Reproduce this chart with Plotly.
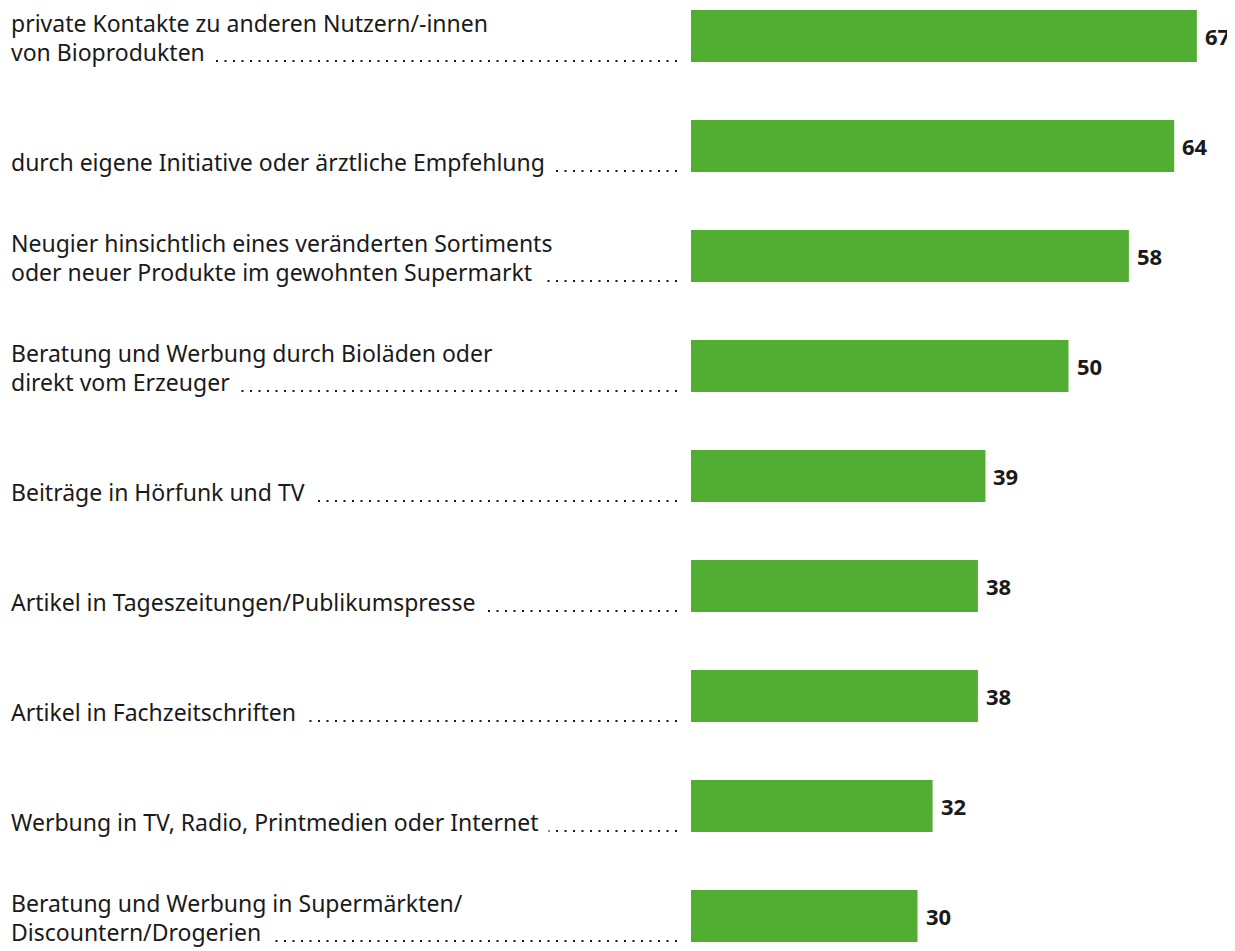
import plotly.graph_objects as go

labels = [
    "private Kontakte zu anderen Nutzern/-innen\nvon Bioprodukten",
    "durch eigene Initiative oder ärztliche Empfehlung",
    "Neugier hinsichtlich eines veränderten Sortiments\noder neuer Produkte im gewohnten Supermarkt",
    "Beratung und Werbung durch Bioläden oder\ndirekt vom Erzeuger",
    "Beiträge in Hörfunk und TV",
    "Artikel in Tageszeitungen/Publikumspresse",
    "Artikel in Fachzeitschriften",
    "Werbung in TV, Radio, Printmedien oder Internet",
    "Beratung und Werbung in Supermärkten/\nDiscountern/Drogerien",
]
values = [67, 64, 58, 50, 39, 38, 38, 32, 30]

# page body has an 8px margin, so the figure is drawn 8px in from the corner
W, H = 1227, 943
GREEN = "#52AE32"
TXT = "#1a1a1a"
FONT = "Noto Sans"
FS = 23
PAD = 9
BAR_X0 = 683          # left edge of bars (figure px)
PX_PER_UNIT = 7.55
ROW = 110
FIRST_C = 28

cats = [f"c{i}" for i in range(len(labels))]

fig = go.Figure(go.Bar(
    x=values, y=cats, orientation="h",
    marker=dict(color=GREEN, line=dict(width=0)),
    width=52 / ROW, hoverinfo="skip",
))

annotations = []
shapes = []
for i, (lab, v, c) in enumerate(zip(labels, values, cats)):
    lines = lab.split("\n")
    annotations.append(dict(
        x=v, y=c, xref="x", yref="y", text=f"<b>{v}</b>", showarrow=False,
        xanchor="left", yanchor="middle", xshift=6, yshift=0,
        font=dict(family=FONT, size=22, color=TXT),
    ))
    shapes.append(dict(
        type="line", xref="paper", yref="y", ysizemode="pixel", yanchor=i,
        x0=4 / W, x1=671 / W, y0=-25, y1=-25,
        line=dict(color=TXT, width=2, dash="2px,6.5px"),
    ))
    nl = len(lines)
    for j in reversed(range(nl)):
        ln = lines[j]
        last = j == nl - 1
        off = (nl - 1 - j) * 29.5
        pad = PAD if last else 0
        annotations.append(dict(
            x=(2 - pad) / W, y=c, xref="paper", yref="y", text=ln, showarrow=False,
            xanchor="left", yanchor="middle", align="left",
            yshift=-16 + off,
            bgcolor="white" if last else "rgba(0,0,0,0)",
            borderpad=pad,
            font=dict(family=FONT, size=FS, color=TXT),
        ))

fig.update_layout(
    width=W, height=H, margin=dict(l=0, r=0, t=0, b=0),
    paper_bgcolor="white", plot_bgcolor="white", showlegend=False,
    xaxis=dict(domain=[BAR_X0 / W, 1], range=[0, (W - BAR_X0) / PX_PER_UNIT],
               visible=False),
    yaxis=dict(type="category", categoryorder="array", categoryarray=cats,
               range=[(H - FIRST_C) / ROW, -FIRST_C / ROW], visible=False),
    annotations=annotations, shapes=shapes,
)
fig.write_html(
    "out.html",
    config={"displayModeBar": False},
    post_script="document.documentElement.style.overflow='hidden';"
                "document.body.style.overflow='hidden';",
)
